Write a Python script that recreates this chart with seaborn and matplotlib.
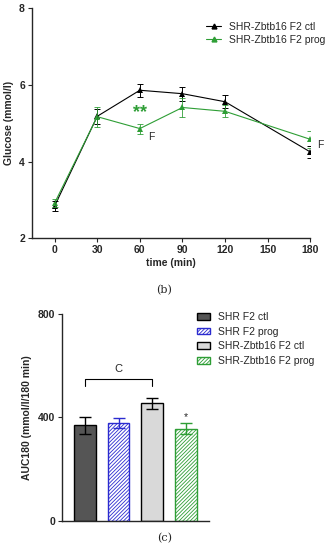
import seaborn as sns
import pandas as pd
import numpy as np
import matplotlib.pyplot as plt
from matplotlib.patches import Patch
from matplotlib.lines import Line2D

# ---- data: glucose curve (b) ----
time_min = [0, 30, 60, 90, 120, 180]
ctl_mean = [2.84, 5.18, 5.86, 5.77, 5.56, 4.25]
ctl_sem = [0.13, 0.20, 0.17, 0.18, 0.17, 0.15]
prog_mean = [2.92, 5.17, 4.86, 5.41, 5.31, 4.58]
prog_sem = [0.10, 0.26, 0.13, 0.24, 0.16, 0.22]
line_names = ['SHR-Zbtb16 F2 ctl', 'SHR-Zbtb16 F2 prog']

# ---- data: AUC bars (c) ----
groups = ['SHR F2 ctl', 'SHR F2 prog', 'SHR-Zbtb16 F2 ctl', 'SHR-Zbtb16 F2 prog']
auc_mean = [370, 377, 455, 356]
auc_sem = [33, 19, 21, 21]

green = '#2e9e35'
blue = '#2b2bd0'

sns.set_theme(style='ticks')
plt.rcParams['font.family'] = ['Liberation Sans', 'DejaVu Sans']
plt.rcParams['hatch.linewidth'] = 0.6

fig = plt.figure(figsize=(3.29, 5.5), dpi=100)

# ---- top: line plot ----
ax1 = fig.add_axes([0.097, 0.567, 0.846, 0.418])
df = pd.DataFrame({
    'time': time_min * 2,
    'glucose': ctl_mean + prog_mean,
    'group': [line_names[0]] * 6 + [line_names[1]] * 6,
})
sns.lineplot(data=df, x='time', y='glucose', hue='group',
             palette=['black', green], marker='^', markersize=4,
             markeredgewidth=0, linewidth=0.8, ax=ax1, legend=False)
ax1.errorbar(time_min, ctl_mean, yerr=ctl_sem, fmt='none', ecolor='black',
             elinewidth=0.7, capsize=2.5, capthick=0.7)
ax1.errorbar(time_min, prog_mean, yerr=prog_sem, fmt='none', ecolor=green,
             elinewidth=0.7, capsize=2.5, capthick=0.7, alpha=0.85)
ax1.set_xlim(-16, 180)
ax1.set_ylim(2, 8)
ax1.set_xticks([0, 30, 60, 90, 120, 150, 180])
ax1.set_yticks([2, 4, 6, 8])
ax1.set_xlabel('time (min)', fontsize=7.5, fontweight='bold', labelpad=2)
ax1.set_ylabel('Glucose (mmol/l)', fontsize=7.5, fontweight='bold', labelpad=4)
ax1.tick_params(labelsize=7.5, width=0.8, length=3, pad=2)
for lab in ax1.get_xticklabels() + ax1.get_yticklabels():
    lab.set_fontweight('bold')
for s in ['left', 'bottom']:
    ax1.spines[s].set_linewidth(1.0)
sns.despine(ax=ax1)
ax1.text(60, 5.27, '**', color=green, fontsize=13, fontweight='bold',
         ha='center', va='center')
ax1.text(66, 4.64, 'F', fontsize=7.5, ha='left', va='center')
ax1.text(185, 4.42, 'F', fontsize=7.5, ha='left', va='center', clip_on=False)
h1 = [Line2D([], [], color='black', marker='^', markersize=3.5, lw=0.8),
      Line2D([], [], color=green, marker='^', markersize=3.5, lw=0.8)]
ax1.legend(h1, line_names, loc='upper left', bbox_to_anchor=(0.61, 0.96),
           frameon=False, fontsize=7.5, handlelength=1.5, handletextpad=0.7,
           labelspacing=0.3, borderaxespad=0)
fig.text(0.5, 1 - 290 / 550, '(b)', ha='center', va='center', fontsize=8,
         family='DejaVu Serif')

# ---- bottom: AUC bar plot ----
ax2 = fig.add_axes([0.188, 0.0533, 0.447, 0.3757])
bdf = pd.DataFrame({'group': groups, 'auc': auc_mean})
sns.barplot(data=bdf, x='group', y='auc', order=groups, errorbar=None,
            width=0.65, ax=ax2)
faces = ['#555555', 'white', '#d9d9d9', 'white']
edges = ['black', blue, 'black', green]
hatches = [None, '/////////', None, '/////////']
for bar, fc, ec, ht in zip(ax2.patches, faces, edges, hatches):
    bar.set_facecolor(fc)
    bar.set_edgecolor(ec)
    bar.set_linewidth(1.0)
    if ht:
        bar.set_hatch(ht)
xs = np.arange(len(groups))
for x, m, e, c in zip(xs, auc_mean, auc_sem, edges):
    ax2.errorbar(x, m, yerr=e, fmt='none', ecolor=c, elinewidth=1.0,
                 capsize=4, capthick=1.0)
ax2.set_xlim(-0.68, 3.68)
ax2.set_ylim(0, 800)
ax2.set_yticks([0, 400, 800])
ax2.set_xticks([])
ax2.set_xlabel('')
ax2.set_ylabel('AUC180 (mmol/l/180 min)', fontsize=7.5, fontweight='bold', labelpad=4)
ax2.tick_params(labelsize=7.5, width=0.8, length=3, pad=2)
for lab in ax2.get_yticklabels():
    lab.set_fontweight('bold')
for s in ['left', 'bottom']:
    ax2.spines[s].set_linewidth(1.0)
sns.despine(ax=ax2)
# bracket between groups 1 and 3
ax2.plot([0, 0, 2, 2], [523, 547, 547, 523], color='black', lw=0.8)
ax2.text(1, 586, 'C', fontsize=8, ha='center', va='center')
ax2.text(3, 400, '*', fontsize=7.5, ha='center', va='center')
h2 = [Patch(facecolor=f, edgecolor=e, hatch=h, linewidth=1.0)
      for f, e, h in zip(faces, edges, hatches)]
ax2.legend(h2, groups, loc='upper left', bbox_to_anchor=(0.89, 1.03),
           frameon=False, fontsize=7.5, handlelength=1.3, handleheight=0.6,
           handletextpad=0.7, labelspacing=0.45, borderaxespad=0)
fig.text(0.5, 1 - 538 / 550, '(c)', ha='center', va='center', fontsize=8,
         family='DejaVu Serif')

fig.savefig('out.png', dpi=100)
